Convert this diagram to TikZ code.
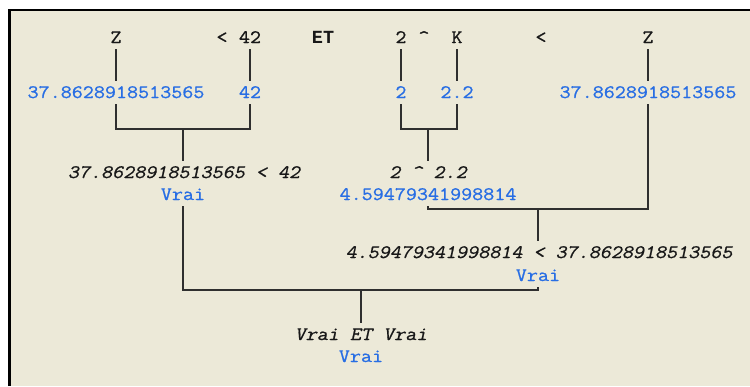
\documentclass[tikz,border=0pt]{standalone}
\usepackage{fontspec}
\setmonofont{Latin Modern Mono}[FakeStretch=1.13, FakeBold=0.9,
  ItalicFont={Latin Modern Mono}, ItalicFeatures={FakeSlant=0.22}]
\newfontfamily\etfont{Liberation Mono}
\usetikzlibrary{positioning, calc}
\definecolor{vrbeige}{RGB}{236, 233, 216}
\definecolor{vrblue}{RGB}{40, 110, 228}
\definecolor{vrink}{RGB}{24, 24, 24}

\begin{document}
\begin{tikzpicture}[x=1pt, y=-1pt,
  font=\ttfamily\fontsize{19}{21}\selectfont,
  every node/.style={inner sep=0pt, outer sep=6pt, text height=11pt, text depth=0pt, anchor=base},
  tok/.style={text=vrink},
  val/.style={text=vrblue},
  expr/.style={text=vrink, font=\ttfamily\itshape\fontsize{19}{21}\selectfont},
  branch/.style={draw=vrink!90, line width=1.4pt}]
  \useasboundingbox (0,0) rectangle (750,386);
  \fill[white] (0,0) rectangle (750,386);
  \fill[vrbeige] (9,10) rectangle (750,386);
  \draw[black, line width=2.6pt] (9.3,386) -- (9.3,10) -- (750,10);

  \node[tok] (zt) at (116,43) {Z};
  \node[tok] (ltt) at (222,43) {<};
  \node[tok] (n42t) at (250,43) {42};
  \node[tok, font=\etfont\bfseries\fontsize{18.5}{21}\selectfont] (ett) at (323,43) {ET};
  \node[tok] (n2t) at (401,43) {2};
  \node[tok] (powt) at (424,43) {\textasciicircum};
  \node[tok] (kt) at (457,43) {K};
  \node[tok] (lt2) at (541,43) {<};
  \node[tok] (z2t) at (648,43) {Z};

  \node[val] (zv) at (116,98) {37.8628918513565};
  \node[val] (v42) at (250,98) {42};
  \node[val] (v2) at (401,98) {2};
  \node[val] (v22) at (457,98) {2.2};
  \node[val] (z2v) at (648,98) {37.8628918513565};

  \node[expr] (cmp1) at (184,178) {37.8628918513565 < 42};
  \node[val] (res1) at (183,200) {Vrai};
  \node[expr] (pow) at (428,178) {2 \textasciicircum{} 2.2};
  \node[val] (res2) at (428,200) {4.59479341998814};
  \node[expr] (cmp2) at (539,258) {4.59479341998814 < 37.8628918513565};
  \node[val] (res3) at (538,281) {Vrai};
  \node[expr] (et) at (361,340) {Vrai ET Vrai};
  \node[val] (res4) at (361,362) {Vrai};

  \coordinate (j1) at (183,129);
  \coordinate (j2) at (428,129);
  \coordinate (j3) at (538,209);
  \coordinate (j4) at (361,290);

  \draw[branch] (zt.south) -- (zt.south |- zv.north);
  \draw[branch] (n42t.south) -- (n42t.south |- v42.north);
  \draw[branch] (n2t.south) -- (n2t.south |- v2.north);
  \draw[branch] (kt.south) -- (kt.south |- v22.north);
  \draw[branch] (z2t.south) -- (z2t.south |- z2v.north);
  \draw[branch] (zv.south) |- (j1) -| (v42.south);
  \draw[branch] (j1) -- (j1 |- cmp1.north);
  \draw[branch] (v2.south) |- (j2) -| (v22.south);
  \draw[branch] (j2) -- (j2 |- pow.north);
  \draw[branch] (res2.south) |- (j3) -| (z2v.south);
  \draw[branch] (j3) -- (j3 |- cmp2.north);
  \draw[branch] (res1.south) |- (j4) -| (res3.south);
  \draw[branch] (j4) -- (j4 |- et.north);
\end{tikzpicture}
\end{document}
